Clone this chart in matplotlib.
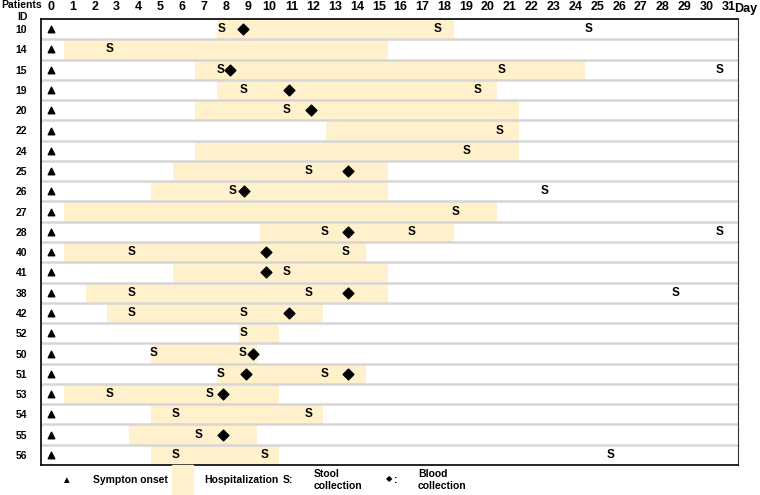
import matplotlib.pyplot as plt
from matplotlib.patches import Rectangle
from matplotlib.transforms import blended_transform_factory

patient_ids = ['10', '14', '15', '19', '20', '22', '24', '25', '26', '27', '28',
               '40', '41', '38', '42', '52', '50', '51', '53', '54', '55', '56']
onset_day = [0] * len(patient_ids)
# first and last day of hospitalization
hosp_first = [8, 1, 7, 8, 7, 13, 7, 6, 5, 1, 10, 1, 6, 2, 3, 9, 5, 8, 1, 5, 4, 5]
hosp_last = [18, 15, 24, 20, 21, 21, 21, 15, 15, 20, 18, 14, 15, 15, 12, 10, 9, 14, 10, 12, 9, 10]
stool_days = [
    [7.8, 17.7, 24.6], [2.7], [7.75, 20.6, 30.6], [8.8, 19.5], [10.8], [20.55],
    [19.0], [11.8], [8.3, 22.6], [18.5], [12.5, 16.5, 30.6], [3.7, 13.5], [10.8],
    [3.7, 11.8, 28.6], [3.7, 8.8], [8.8], [4.7, 8.75], [7.75, 12.5], [2.7, 7.25],
    [5.7, 11.8], [6.75], [5.7, 9.75, 25.6],
]
blood_days = [
    [8.8], [], [8.2], [10.9], [11.9], [], [], [13.6], [8.85], [], [13.6],
    [9.85], [9.85], [13.6], [10.9], [], [9.25], [8.9, 13.6], [7.85], [], [7.85], [],
]
days = list(range(32))

fill = '#fff1cc'
plt.rcParams['font.family'] = ['Liberation Sans', 'DejaVu Sans']

fig = plt.figure(figsize=(7.6, 4.95), dpi=100)
ax = fig.add_axes([41 / 760, 1 - 465 / 495, 697 / 760, 446 / 495])

n = len(patient_ids)
rows = list(range(n))

# hospitalization stays
ax.barh(rows, [l - f + 0.85 for f, l in zip(hosp_first, hosp_last)],
        left=[f - 0.42 for f in hosp_first], height=1.0, color=fill, zorder=1)

# row separators
for r in rows[:-1]:
    ax.axhline(r + 0.5, color='#d6d6d6', lw=1.8, zorder=2)

ax.scatter(onset_day, rows, marker='^', s=22, color='black', zorder=3)
for r in rows:
    for d in stool_days[r]:
        ax.text(d, r, 'S', ha='center', va='center', fontsize=8.5,
                fontweight='bold', zorder=4)
    if blood_days[r]:
        ax.scatter(blood_days[r], [r] * len(blood_days[r]), marker='D', s=30,
                   color='black', zorder=4)

ax.set_xlim(-0.46, 31.44)
ax.set_ylim(n - 0.5, -0.5)
ax.xaxis.tick_top()
ax.set_xticks(days)
ax.set_xticklabels([str(d) for d in days], fontsize=9, fontweight='bold')
ax.set_yticks(rows)
ax.set_yticklabels(patient_ids, fontsize=7.5, fontweight='bold')
ax.tick_params(length=0, pad=4)
ax.tick_params(axis='y', pad=14)
for lab in ax.get_yticklabels():
    lab.set_horizontalalignment('center')
for s in ['left', 'top', 'bottom']:
    ax.spines[s].set_linewidth(1.2)
ax.spines['right'].set_color('#333333')

fig.text(22 / 760, 1 - 11 / 495, 'Patients\nID', ha='center', va='center',
         fontsize=7.5, fontweight='bold', linespacing=1.15)
fig.text(746 / 760, 1 - 9 / 495, 'Day', ha='center', va='center',
         fontsize=9, fontweight='bold')

# legend below the chart
ly = 1 - 480 / 495
lfont = dict(fontsize=7.5, fontweight='bold', va='center')
fig.text(66 / 760, ly, '\u25b2', ha='center', va='center', fontsize=7)
fig.text(93 / 760, ly, 'Sympton onset', **lfont)
trans = blended_transform_factory(ax.transData, fig.transFigure)
fig.patches.append(Rectangle((5.55, 0), 0.95, 1 - 465 / 495, transform=trans,
                             color=fill, zorder=0))
fig.text(204 / 760, ly, 'Hospitalization', **lfont)
fig.text(283 / 760, ly, 'S:', **lfont)
fig.text(314 / 760, ly, 'Stool\ncollection', linespacing=1.15, **lfont)
fig.text(389 / 760, ly, '\u25c6', ha='center', va='center', fontsize=6)
fig.text(394 / 760, ly, ':', **lfont)
fig.text(418 / 760, ly, 'Blood\ncollection', linespacing=1.15, **lfont)

fig.savefig('out.png', dpi=100)
